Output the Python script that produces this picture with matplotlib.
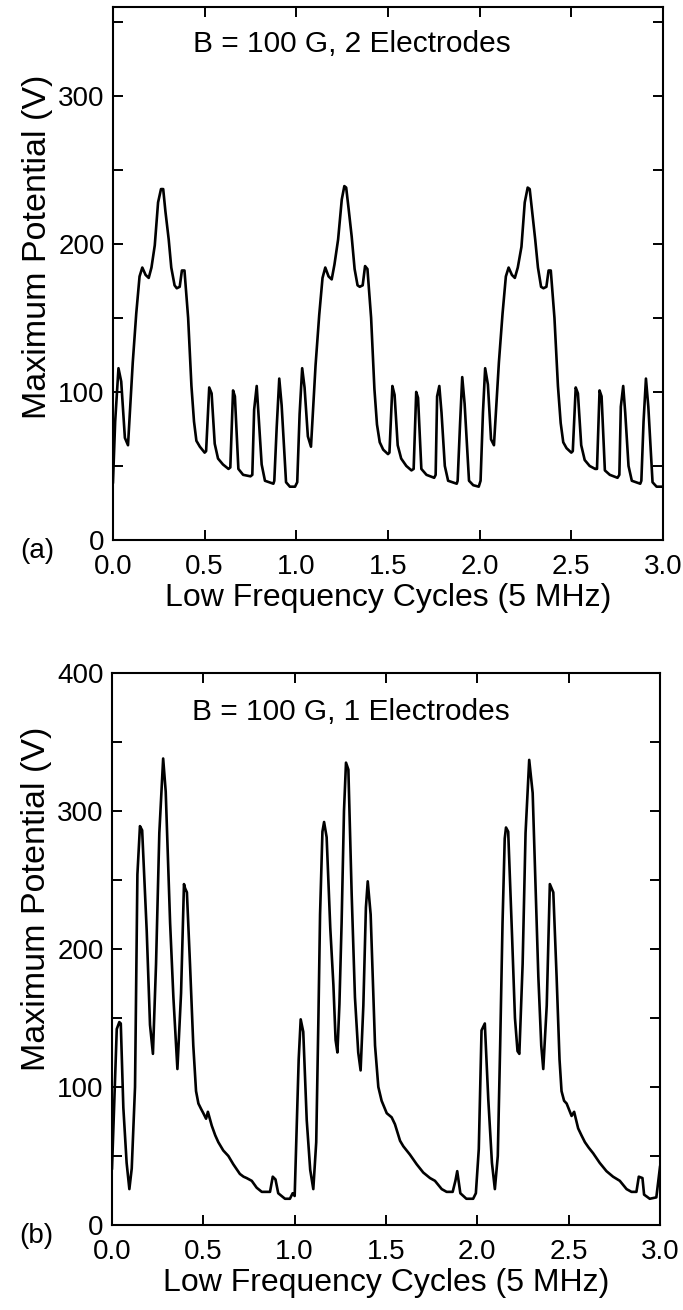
"""
Maximum potential vs. low-frequency cycles, B = 100 G
(a) 2 electrodes   (b) 1 electrode
"""
import matplotlib
matplotlib.use('Agg')
import matplotlib.pyplot as plt
from matplotlib.ticker import MultipleLocator

plt.rcParams['font.family'] = ['Liberation Sans', 'DejaVu Sans']

# ---- (a) 2 electrodes ----
top_x = [0.000, 0.012, 0.030, 0.045, 0.065, 0.082, 0.108, 0.127, 0.145, 0.160,
         0.178, 0.195, 0.210, 0.228, 0.246, 0.262, 0.274, 0.286, 0.304, 0.318,
         0.336, 0.348, 0.364, 0.376, 0.390, 0.410, 0.428, 0.442, 0.455, 0.474,
         0.500, 0.508, 0.525, 0.538, 0.555, 0.573, 0.600, 0.630, 0.640, 0.655,
         0.665, 0.684, 0.710, 0.750, 0.760, 0.770, 0.784, 0.793, 0.811, 0.829,
         0.875, 0.880, 0.893, 0.907, 0.920, 0.944, 0.965, 0.993,
         1.005, 1.018, 1.032, 1.045, 1.063, 1.080, 1.105, 1.125, 1.143, 1.158,
         1.176, 1.193, 1.208, 1.228, 1.248, 1.262, 1.272, 1.285, 1.302, 1.318,
         1.334, 1.346, 1.362, 1.375, 1.388, 1.408, 1.426, 1.440, 1.455, 1.474,
         1.500, 1.508, 1.524, 1.536, 1.553, 1.572, 1.600, 1.628, 1.640, 1.654,
         1.664, 1.682, 1.710, 1.752, 1.760, 1.768, 1.780, 1.792, 1.810, 1.828,
         1.875, 1.880, 1.893, 1.905, 1.918, 1.942, 1.965, 1.995,
         2.005, 2.018, 2.030, 2.045, 2.062, 2.078, 2.105, 2.125, 2.143, 2.158,
         2.176, 2.192, 2.208, 2.228, 2.246, 2.262, 2.273, 2.286, 2.303, 2.318,
         2.335, 2.348, 2.364, 2.376, 2.388, 2.408, 2.427, 2.442, 2.456, 2.474,
         2.500, 2.508, 2.524, 2.536, 2.554, 2.573, 2.600, 2.630, 2.640, 2.654,
         2.665, 2.683, 2.710, 2.752, 2.762, 2.770, 2.783, 2.794, 2.812, 2.830,
         2.876, 2.882, 2.894, 2.907, 2.920, 2.943, 2.965, 3.000]
top_y = [39, 80, 116, 107, 69, 64, 120, 153, 178, 184,
         179, 177, 184, 199, 228, 237, 237, 222, 203, 184,
         172, 170, 171, 182, 182, 150, 104, 80, 67, 63,
         59, 60, 103, 99, 65, 55, 51, 48, 49, 101,
         97, 48, 44, 43, 44, 88, 104, 86, 51, 40,
         38, 40, 76, 109, 91, 39, 36, 36,
         39, 85, 116, 103, 70, 63, 118, 152, 177, 184,
         178, 176, 186, 203, 230, 239, 238, 224, 205, 183,
         172, 171, 172, 185, 183, 150, 102, 78, 66, 61,
         58, 59, 104, 98, 64, 55, 50, 47, 48, 100,
         96, 48, 44, 42, 44, 97, 104, 86, 50, 40,
         38, 40, 78, 110, 92, 40, 37, 36,
         40, 86, 116, 105, 68, 64, 120, 153, 178, 184,
         179, 177, 184, 198, 228, 238, 237, 222, 203, 184,
         171, 170, 171, 182, 182, 150, 104, 79, 66, 62,
         59, 60, 103, 99, 64, 54, 50, 48, 48, 101,
         97, 47, 44, 42, 44, 90, 104, 86, 50, 40,
         38, 40, 80, 109, 90, 39, 36, 36]

# ---- (b) 1 electrode ----
bot_x = [0.000, 0.026, 0.040, 0.048, 0.062, 0.080, 0.095, 0.108, 0.126, 0.139,
         0.153, 0.165, 0.190, 0.208, 0.224, 0.241, 0.259, 0.280, 0.294, 0.318,
         0.336, 0.358, 0.378, 0.394, 0.400, 0.410, 0.427, 0.445, 0.460, 0.473,
         0.488, 0.500, 0.515, 0.525, 0.546, 0.565, 0.582, 0.600, 0.609, 0.637,
         0.664, 0.700, 0.720, 0.737, 0.765, 0.792, 0.820, 0.865, 0.880, 0.895,
         0.910, 0.947, 0.974, 0.989,
         1.000, 1.011, 1.022, 1.033, 1.047, 1.066, 1.085, 1.102, 1.118, 1.130,
         1.139, 1.152, 1.161, 1.175, 1.195, 1.212, 1.224, 1.234, 1.245, 1.257,
         1.270, 1.281, 1.294, 1.312, 1.330, 1.348, 1.361, 1.376, 1.390, 1.400,
         1.416, 1.440, 1.458, 1.476, 1.504, 1.531, 1.549, 1.577, 1.595, 1.631,
         1.668, 1.704, 1.741, 1.768, 1.805, 1.832, 1.865, 1.880, 1.890, 1.907,
         1.940, 1.977, 1.992,
         2.008, 2.023, 2.041, 2.060, 2.080, 2.096, 2.112, 2.125, 2.138, 2.150,
         2.157, 2.169, 2.190, 2.206, 2.220, 2.230, 2.248, 2.264, 2.284, 2.303,
         2.320, 2.334, 2.350, 2.361, 2.380, 2.397, 2.416, 2.434, 2.450, 2.461,
         2.475, 2.489, 2.516, 2.530, 2.552, 2.570, 2.589, 2.610, 2.634, 2.670,
         2.707, 2.743, 2.780, 2.817, 2.844, 2.871, 2.884, 2.904, 2.913, 2.944,
         2.980, 3.000]
bot_y = [41, 142, 147, 146, 85, 45, 26, 41, 100, 254,
         289, 286, 213, 145, 124, 189, 284, 338, 314, 219,
         165, 113, 168, 247, 244, 241, 189, 130, 97, 88,
         84, 81, 77, 82, 72, 65, 60, 56, 54, 50,
         44, 37, 35, 34, 32, 27, 24, 24, 35, 33,
         23, 19, 19, 23,
         21, 70, 120, 149, 140, 76, 40, 26, 60, 150,
         225, 285, 292, 281, 215, 174, 134, 125, 160, 219,
         300, 335, 330, 240, 165, 125, 112, 159, 230, 249,
         225, 130, 100, 90, 81, 78, 73, 61, 57, 51,
         44, 38, 34, 32, 26, 24, 24, 32, 39, 23,
         19, 19, 23,
         55, 141, 146, 91, 45, 26, 50, 130, 219, 280,
         288, 285, 210, 150, 126, 124, 189, 284, 337, 313,
         240, 180, 130, 113, 159, 247, 241, 180, 120, 97,
         90, 88, 79, 82, 70, 65, 60, 56, 52, 45,
         39, 35, 32, 26, 24, 24, 35, 34, 22, 19,
         20, 42]

panels = [
    (top_x, top_y, 360, 'B = 100 G, 2 Electrodes', '(a)', 0.55),
    (bot_x, bot_y, 400, 'B = 100 G, 1 Electrodes', '(b)', 0.59),
]
rects = [[0.1654, 0.5878, 0.8053, 0.4069],
         [0.1640, 0.0649, 0.8023, 0.4214]]

fig = plt.figure(figsize=(6.83, 13.10), dpi=100)
for (x, y, ymax, note, tag, ylab_y), rect in zip(panels, rects):
    ax = fig.add_axes(rect)
    ax.plot(x, y, color='black', lw=1.9)
    ax.set_xlim(0, 3)
    ax.set_ylim(0, ymax)
    ax.xaxis.set_major_locator(MultipleLocator(0.5))
    ax.yaxis.set_major_locator(MultipleLocator(100))
    ax.yaxis.set_minor_locator(MultipleLocator(50))
    ax.tick_params(which='both', direction='in', top=True, right=True,
                   length=7, width=1.4, labelsize=20)
    ax.tick_params(axis='x', pad=10)
    ax.tick_params(axis='y', pad=6)
    ax.xaxis.set_major_formatter(plt.FuncFormatter(lambda v, p: f'{v:.1f}'))
    for s in ax.spines.values():
        s.set_linewidth(1.5)
    ax.set_xlabel('Low Frequency Cycles (5 MHz)', fontsize=23, labelpad=2)
    ax.set_ylabel('Maximum Potential (V)', fontsize=24.5, labelpad=4)
    ax.yaxis.label.set_y(ylab_y)
    ax.text(0.435, 0.93, note, transform=ax.transAxes, ha='center',
            va='center', fontsize=21.5)
    ax.text(-0.138, -0.02, tag, transform=ax.transAxes, ha='center',
            va='center', fontsize=20)

fig.savefig('out.png', dpi=100)
